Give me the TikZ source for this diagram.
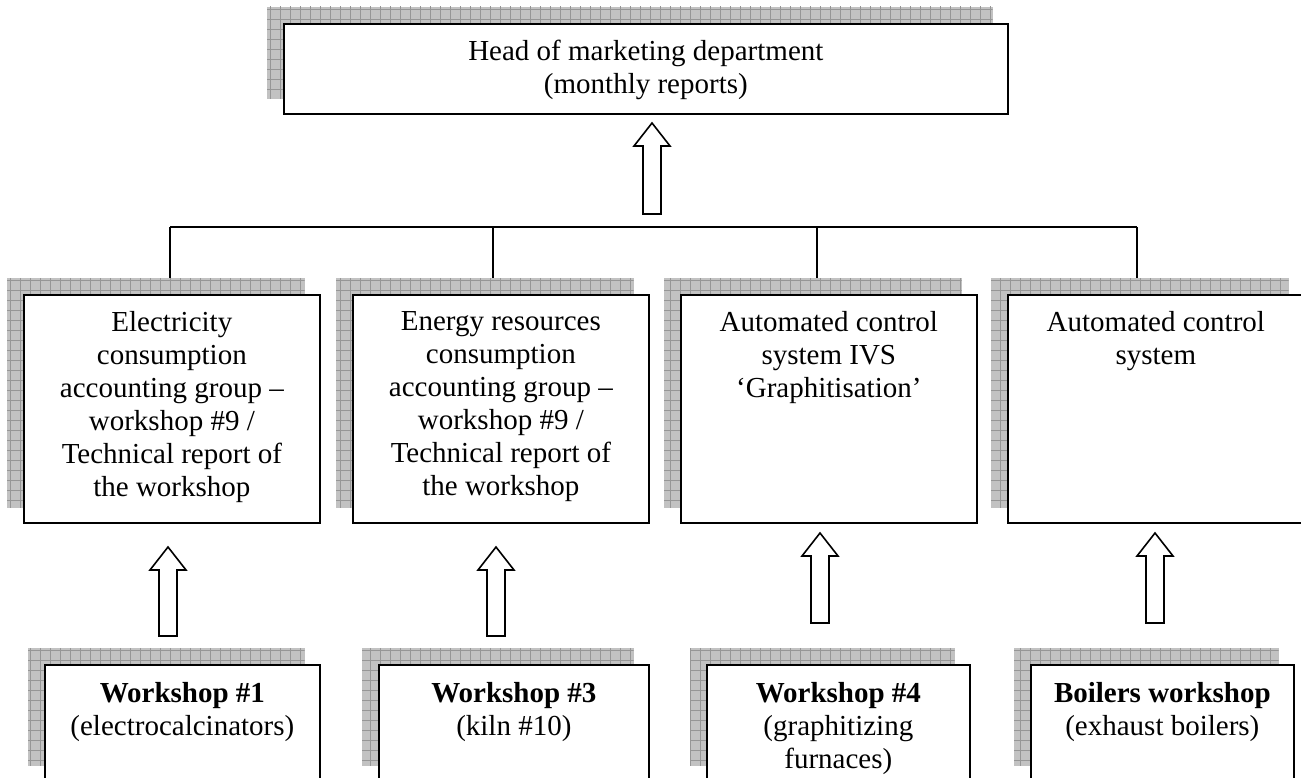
\documentclass[tikz,border=0pt]{standalone}
\usepackage{fontspec}
\setmainfont{Liberation Serif}
\usetikzlibrary{calc,backgrounds}
\tikzset{
  boxnode/.style={draw=black, line width=1.7pt, fill=white, inner sep=0pt, rectangle, anchor=north west},
  txt/.style={anchor=north, inner sep=0pt, align=center, font=\fontsize{29}{33}\selectfont},
  conn/.style={line width=1.5pt},
  barrowline/.style={draw=black, fill=white, line width=1.6pt, line join=miter},
  shadowfill/.style={fill={rgb,255:red,194;green,194;blue,194}},
  shadowgrid/.style={draw={rgb,255:red,150;green,150;blue,150}, line width=1pt},
}
\newcommand\shadowof[1]{%
  \path[shadowfill] ([shift={(-16,-16)}]#1.south west) rectangle ([shift={(-16,-16)}]#1.north east);
  \begin{scope}
    \clip ([shift={(-16,-16)}]#1.south west) rectangle ([shift={(-16,-16)}]#1.north east);
    \draw[shadowgrid] ([shift={(-30,-30)}]#1.north west) grid[step=10pt] ([shift={(10,10)}]#1.south east);
  \end{scope}}
\newcommand\blockarr[2]{% #1 = bottom, #2 = tip
  \path[barrowline] ($(#1)+(-9,0)$) -- ($(#2)+(-9,23)$) -- ($(#2)+(-18,23)$) -- (#2)
    -- ($(#2)+(18,23)$) -- ($(#2)+(9,23)$) -- ($(#1)+(9,0)$) -- cycle;}
\begin{document}
\begin{tikzpicture}[x=1pt,y=-1pt]
\path[use as bounding box, clip] (0,0) rectangle (1301,778);

% top box
\node[boxnode, minimum width=724, minimum height=90] (top) at (283,23) {};
\node[txt] (toptxt) at ([yshift=-17pt]top.north) {Head of marketing department\\(monthly reports)};

% second row
\node[boxnode, minimum width=296, minimum height=228] (r1) at (23,294) {};
\node[boxnode, minimum width=296, minimum height=228] (r2) at (352,294) {};
\node[boxnode, minimum width=296, minimum height=228] (r3) at (680,294) {};
\node[boxnode, minimum width=296, minimum height=228] (r4) at (1007,294) {};
\node[txt] (r1txt) at ([yshift=-17pt]r1.north) {Electricity\\consumption\\accounting group --\\workshop \#9 /\\Technical report of\\the workshop};
\node[txt] (r2txt) at ([yshift=-17pt]r2.north) {Energy resources\\consumption\\accounting group --\\workshop \#9 /\\Technical report of\\the workshop};
\node[txt] (r3txt) at ([yshift=-17pt]r3.north) {Automated control\\system IVS\\`Graphitisation'};
\node[txt] (r4txt) at ([yshift=-17pt]r4.north) {Automated control\\system};

% third row
\node[boxnode, minimum width=275, minimum height=116] (w1) at (44,664) {};
\node[boxnode, minimum width=270, minimum height=116] (w2) at (378,664) {};
\node[boxnode, minimum width=263, minimum height=116] (w3) at (706,664) {};
\node[boxnode, minimum width=263, minimum height=116] (w4) at (1030,664) {};
\node[txt] (w1txt) at ([yshift=-18pt]w1.north) {\textbf{Workshop \#1}\\(electrocalcinators)};
\node[txt] (w2txt) at ([yshift=-18pt]w2.north) {\textbf{Workshop \#3}\\(kiln \#10)};
\node[txt] (w3txt) at ([yshift=-18pt]w3.north) {\textbf{Workshop \#4}\\(graphitizing\\furnaces)};
\node[txt] (w4txt) at ([yshift=-18pt]w4.north) {\textbf{Boilers workshop}\\(exhaust boilers)};

% shadows
\begin{scope}[on background layer]
  \fill[white] (0,0) rectangle (1301,778);
  \shadowof{top}
  \shadowof{r1}\shadowof{r2}\shadowof{r3}\shadowof{r4}
  \shadowof{w1}\shadowof{w2}\shadowof{w3}\shadowof{w4}
\end{scope}

% connector tree
\coordinate (h1) at (170,227);
\coordinate (h2) at (493,227);
\coordinate (h3) at (817,227);
\coordinate (h4) at (1137,227);
\coordinate (v1) at (170,278);
\coordinate (v2) at (493,278);
\coordinate (v3) at (817,278);
\coordinate (v4) at (1137,278);
\draw[conn] (h1) -- (h4);
\draw[conn] (h1) -- (v1);
\draw[conn] (h2) -- (v2);
\draw[conn] (h3) -- (v3);
\draw[conn] (h4) -- (v4);

% block arrows
\coordinate (t0) at (652,123); \coordinate (b0) at (652,214);
\coordinate (t1) at (168,547); \coordinate (b1) at (168,636);
\coordinate (t2) at (496,547); \coordinate (b2) at (496,636);
\coordinate (t3) at (820,533); \coordinate (b3) at (820,623);
\coordinate (t4) at (1155,533); \coordinate (b4) at (1155,623);
\blockarr{b0}{t0}
\blockarr{b1}{t1}
\blockarr{b2}{t2}
\blockarr{b3}{t3}
\blockarr{b4}{t4}
\end{tikzpicture}
\end{document}
